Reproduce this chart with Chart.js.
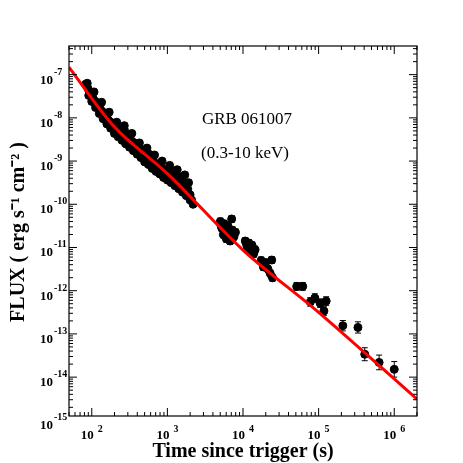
<!DOCTYPE html>
<html><head><meta charset="utf-8">
<script src="https://cdn.jsdelivr.net/npm/chart.js@4/dist/chart.umd.min.js"></script>
<style>html,body{margin:0;background:#fff}#c{width:463px;height:463px}</style>
</head><body><div id="c"><canvas id="cv" width="463" height="463"></canvas></div>
<script>
// data in log10 units (time s, flux erg/s/cm2)
const earlyLogT = [1.92,1.95,1.97,2.0,2.02,2.05,2.08,2.1,2.12,2.15,2.18,2.2,2.22,2.25,2.28,2.3,2.33,2.36,2.4,2.43,2.45,2.48,2.5,2.53,2.55,2.58,2.6,2.63,2.65,2.68,2.7,2.73,2.76,2.78,2.8,2.83,2.86,2.88,2.9,2.93,2.96,3.0,3.02,3.05,3.08,3.1,3.13,3.16,3.19,3.22,3.25,3.27,3.3,3.32,3.34,
  1.96,2.0,2.05,2.1,2.15,2.2,2.25,2.3,2.35,2.4,2.45,2.5,2.55,2.6,2.65,2.7,2.75,2.8,2.85,2.9,2.95,3.0,3.05,3.1,3.15,3.2,3.25,3.3,
  1.94,2.03,2.13,2.23,2.33,2.43,2.53,2.63,2.73,2.83,2.93,3.03,3.13,3.23,3.28];
const earlyLogF = [-7.22,-7.32,-7.4,-7.48,-7.56,-7.62,-7.7,-7.74,-7.82,-7.87,-7.94,-8.0,-8.05,-8.1,-8.17,-8.22,-8.24,-8.3,-8.32,-8.27,-8.37,-8.44,-8.5,-8.54,-8.57,-8.62,-8.67,-8.72,-8.74,-8.82,-8.8,-8.87,-8.84,-8.92,-9.0,-9.04,-9.07,-9.12,-9.07,-9.17,-9.22,-9.2,-9.27,-9.32,-9.24,-9.32,-9.37,-9.42,-9.37,-9.5,-9.57,-9.65,-9.78,-9.9,-10.0,
  -7.48,-7.62,-7.76,-7.9,-8.02,-8.14,-8.24,-8.36,-8.44,-8.52,-8.6,-8.68,-8.76,-8.84,-8.92,-9.02,-9.08,-9.17,-9.24,-9.3,-9.38,-9.44,-9.5,-9.57,-9.64,-9.72,-9.8,-9.9,
  -7.2,-7.4,-7.64,-7.87,-8.1,-8.18,-8.36,-8.58,-8.7,-8.86,-9.0,-9.1,-9.2,-9.32,-9.5];
const midLogT = [3.70,3.72,3.74,3.75,3.77,3.78,3.8,3.82,3.83,3.85,3.86,3.88,3.9,3.71,3.76,3.79,3.84,4.03,4.06,4.08,4.1,4.12,4.14,4.16,4.05,4.11,4.24,4.27,4.3,4.33,4.36,4.38,4.39];
const midLogF = [-10.4,-10.55,-10.7,-10.45,-10.6,-10.8,-10.5,-10.7,-10.85,-10.34,-10.6,-10.75,-10.65,-10.5,-10.72,-10.62,-10.8,-10.85,-11.0,-10.9,-11.1,-10.95,-11.15,-11.05,-10.95,-11.05,-11.3,-11.45,-11.35,-11.5,-11.6,-11.29,-11.7];
const lateLogT = [4.71,4.79,4.89,4.95,5.02,5.10,5.07,5.32,5.52,5.61,5.80,6.0];
const lateLogF = [-11.9,-11.9,-12.26,-12.17,-12.29,-12.24,-12.47,-12.81,-12.85,-13.47,-13.66,-13.82];
const lateErr  = [0.09,0.09,0.1,0.1,0.1,0.1,0.1,0.12,0.13,0.15,0.17,0.18];
const fitLogT = [1.7,2.28,3.0,4.0,5.0,6.3];
const fitLogF = [-6.83,-8.17,-9.29,-11.06,-12.5,-14.51];
const xTicks = [2,3,4,5,6];
const yTicks = [-15,-14,-13,-12,-11,-10,-9,-8,-7];

const sup = {'-':'⁻','0':'⁰','1':'¹','2':'²','3':'³','4':'⁴','5':'⁵','6':'⁶','7':'⁷','8':'⁸','9':'⁹'};
const supStr = n => String(n).split('').map(c=>sup[c]).join('');
const pts = (tx,fy,err)=>tx.map((t,i)=>({x:10**t,y:10**fy[i],e:err?err[i]:0.06}));
const allPts = [].concat(pts(earlyLogT,earlyLogF),pts(midLogT,midLogF,midLogT.map(()=>0.08)),pts(lateLogT,lateLogF,lateErr));

const deco = {
  id:'deco',
  beforeDatasetsDraw(ch){
    const {ctx,scales:{x,y}} = ch;
    ctx.save(); ctx.strokeStyle='#000'; ctx.lineWidth=1;
    allPts.forEach(p=>{
      const px=x.getPixelForValue(p.x), y1=y.getPixelForValue(p.y*10**p.e), y2=y.getPixelForValue(p.y/10**p.e);
      ctx.beginPath(); ctx.moveTo(px,y1); ctx.lineTo(px,y2);
      ctx.moveTo(px-3,y1); ctx.lineTo(px+3,y1); ctx.moveTo(px-3,y2); ctx.lineTo(px+3,y2); ctx.stroke();
    });
    ctx.restore();
  },
  afterDraw(ch){
    const {ctx,chartArea:a,scales:{x,y}} = ch;
    ctx.save(); ctx.strokeStyle='#000'; ctx.lineWidth=1.2;
    ctx.strokeRect(a.left,a.top,a.right-a.left,a.bottom-a.top);
    ctx.lineWidth=1;
    for(let d=1;d<=6;d++) for(let m=1;m<10;m++){
      const v=m*10**d; if(v<x.min||v>x.max) continue;
      const px=x.getPixelForValue(v), L=m==1?8:4;
      ctx.beginPath(); ctx.moveTo(px,a.bottom); ctx.lineTo(px,a.bottom-L); ctx.moveTo(px,a.top); ctx.lineTo(px,a.top+L); ctx.stroke();
    }
    for(let d=-16;d<=-6;d++) for(let m=1;m<10;m++){
      const v=m*10**d; if(v<y.min||v>y.max) continue;
      const py=y.getPixelForValue(v), L=m==1?8:4;
      ctx.beginPath(); ctx.moveTo(a.left,py); ctx.lineTo(a.left+L,py); ctx.moveTo(a.right,py); ctx.lineTo(a.right-L,py); ctx.stroke();
    }
    ctx.fillStyle='#000'; ctx.textBaseline='alphabetic';
    xTicks.forEach(t=>{const px=x.getPixelForValue(10**t);
      ctx.font='bold 13px "Liberation Serif"'; ctx.textAlign='right'; ctx.fillText('10',px+2,a.bottom+23);
      ctx.font='bold 10px "Liberation Serif"'; ctx.textAlign='left'; ctx.fillText(String(t),px+6,a.bottom+16);});
    yTicks.forEach(t=>{const py=y.getPixelForValue(10**t);
      ctx.font='bold 13px "Liberation Serif"'; ctx.textAlign='right'; ctx.fillText('10',a.left-16,py+9);
      ctx.font='bold 10px "Liberation Serif"'; ctx.textAlign='left'; ctx.fillText(String(t),a.left-15,py);});
    ctx.font='17px "Liberation Serif"'; ctx.textAlign='center';
    ctx.fillText('GRB 061007',247,124); ctx.fillText('(0.3-10 keV)',245,158);
    ctx.font='bold 20px "Liberation Serif"';
    ctx.fillText('Time since trigger (s)',243,457);
    ctx.translate(24,232); ctx.rotate(-Math.PI/2);
    ctx.fillText('FLUX ( erg s'+supStr(-1)+' cm'+supStr(-2)+' )',0,0);
    ctx.restore();
  }
};

new Chart(document.getElementById('cv'),{
  data:{datasets:[
    {type:'scatter',data:allPts,pointRadius:4,pointBackgroundColor:'#000',pointBorderColor:'#000',order:2},
    {type:'line',data:fitLogT.map((t,i)=>({x:10**t,y:10**fitLogF[i]})),borderColor:'#ff0000',borderWidth:3,pointRadius:0,tension:0.4,cubicInterpolationMode:'monotone',order:1}
  ]},
  options:{responsive:false,animation:false,
    layout:{padding:{left:0,right:46,top:46,bottom:0}},
    plugins:{legend:{display:false},tooltip:{enabled:false}},
    scales:{
      x:{type:'logarithmic',min:50,max:2e6,grid:{display:false},border:{display:false},ticks:{display:false},afterFit(s){s.height=47;}},
      y:{type:'logarithmic',min:1.26e-15,max:4.6e-7,grid:{display:false},border:{display:false},ticks:{display:false},afterFit(s){s.width=69;}}
    }
  },
  plugins:[deco]
});
</script></body></html>
